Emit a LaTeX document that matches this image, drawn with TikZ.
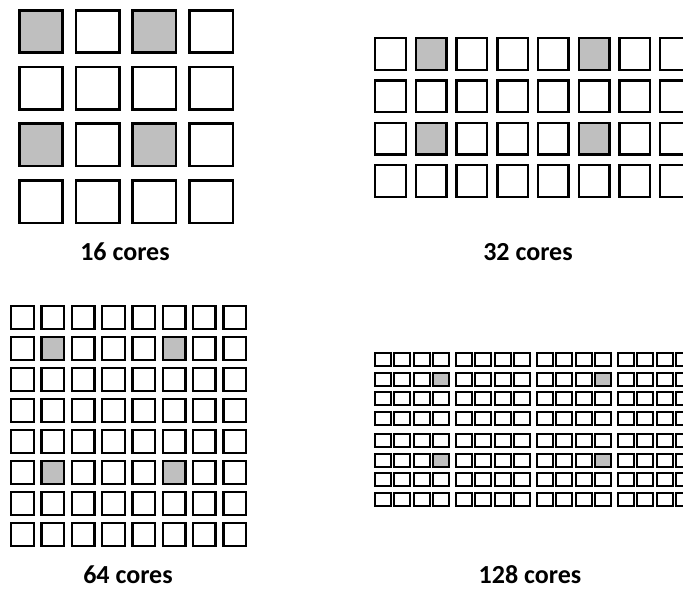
\documentclass[tikz,border=0pt]{standalone}
\usepackage{fontspec}
\setmainfont{Carlito}
\usepackage{tikz}

\tikzset{
  core/.style={draw=black, fill=white, line width=#1},
  core/.default=2.6pt,
  busy/.style={fill=gray!50},
  caption/.style={font=\fontsize{26}{30}\selectfont\bfseries, inner sep=0pt}
}

\begin{document}
\begin{tikzpicture}[x=1pt, y=-1pt, auto]
        \useasboundingbox (0,0) rectangle (683,590);
        \foreach \i in {0,...,3}
            \foreach \j in {0,...,3}
                \draw [core] ({19.3+56.7*\i},{10.3+56.7*\j}) rectangle ++(43.4,42.4);
        \foreach \i in {0,2}
            \foreach \j in {0,2}
                \draw [core, busy] ({19.3+56.7*\i},{10.3+56.7*\j}) rectangle ++(43.4,42.4);
        \node [caption] (c16) at (125,252) {16 cores};

        \foreach \i in {0,...,7}
            \foreach \j in {0,...,3}
                \draw [core=2.4pt] ({375.2+40.7*\i},{38.2+42.3*\j}) rectangle ++(30.6,31.6);
        \foreach \i in {1,5}
            \foreach \j in {0,2}
                \draw [core=2.4pt, busy] ({375.2+40.7*\i},{38.2+42.3*\j}) rectangle ++(30.6,31.6);
        \node [caption] (c32) at (528,252) {32 cores};

        \foreach \i in {0,...,7}
            \foreach \j in {0,...,7}
                \draw [core=2.4pt] ({11.2+30.3*\i},{306.2+31*\j}) rectangle ++(22.6,22.6);
        \foreach \i in {1,5}
            \foreach \j in {1,5}
                \draw [core=2.4pt, busy] ({11.2+30.3*\i},{306.2+31*\j}) rectangle ++(22.6,22.6);
        \node [caption] (c64) at (128,575) {64 cores};

        \foreach \i in {0,...,15}
            \foreach \j in {0,...,7}
                \draw [core=2pt] ({375+81*floor(\i/4)+19.4*mod(\i,4)},{353+81*floor(\j/4)+19.7*mod(\j,4)}) rectangle ++(15.7,12.9);
        \foreach \i in {3,11}
            \foreach \j in {1,5}
                \draw [core=2pt, busy] ({375+81*floor(\i/4)+19.4*mod(\i,4)},{353+81*floor(\j/4)+19.7*mod(\j,4)}) rectangle ++(15.7,12.9);
        \node [caption] (c128) at (530,575) {128 cores};
    \end{tikzpicture}
\end{document}
